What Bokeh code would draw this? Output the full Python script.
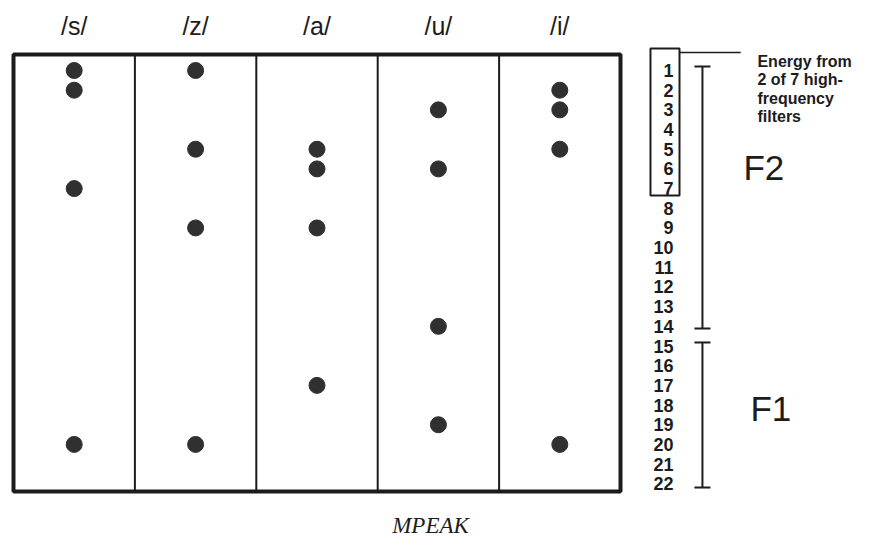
from bokeh.plotting import figure
from bokeh.models import Range1d, ColumnDataSource
from bokeh.core.properties import value
from bokeh.embed import file_html
from bokeh.resources import INLINE

# ---- data ----
categories = ["/s/", "/z/", "/a/", "/u/", "/i/"]
peaks_s = [1, 2, 7, 20]
peaks_z = [1, 5, 9, 20]
peaks_a = [5, 6, 9, 17]
peaks_u = [3, 6, 14, 19]
peaks_i = [2, 3, 5, 20]
channel_labels = ["1", "2", "3", "4", "5", "6", "7", "8", "9", "10", "11",
                  "12", "13", "14", "15", "16", "17", "18", "19", "20", "21", "22"]
channels = [1, 2, 3, 4, 5, 6, 7, 8, 9, 10, 11, 12, 13, 14, 15, 16, 17, 18, 19, 20, 21, 22]
hf_box = (1, 7)          # high-frequency filter group
f2_range = (1, 14)
f1_range = (15, 22)
energy_note = ["Energy from", "2 of 7 high-", "frequency", "filters"]
x_title = "MPEAK"

all_peaks = [peaks_s, peaks_z, peaks_a, peaks_u, peaks_i]

INK = "#1c1c1c"
DOT = "#303030"

p = figure(width=855, height=540, output_backend="svg", toolbar_location=None,
           x_range=Range1d(-0.1071, 6.9357), y_range=Range1d(24.882, -2.557),
           x_axis_type=None, y_axis_type=None, min_border=0,
           outline_line_color=None, background_fill_color="white",
           border_fill_color="white")
p.grid.visible = False

# outer box and column dividers
ncat = len(categories)
p.quad(left=[0], right=[ncat], top=[0.19], bottom=[22.39],
       fill_color=None, line_color=INK, line_width=4)
p.segment(x0=list(range(1, ncat)), x1=list(range(1, ncat)),
          y0=[0.19] * (ncat - 1), y1=[22.39] * (ncat - 1),
          line_color=INK, line_width=2)

# column labels
p.text(x=[i + 0.5 for i in range(ncat)], y=[-1.28] * ncat, text=categories,
       text_align="center", text_baseline="middle",
       text_font=value("Liberation Sans"), text_font_size="25px", text_color=INK)

# dots
xs, ys = [], []
for i, pk in enumerate(all_peaks):
    for c in pk:
        xs.append(i + 0.5)
        ys.append(c)
src = ColumnDataSource(dict(x=xs, y=ys))
p.scatter("x", "y", source=src, size=16, fill_color=DOT, line_color=DOT)

# channel numbers
p.text(x=[5.437] * len(channels), y=channels, text=channel_labels,
       text_align="right", text_baseline="middle",
       text_font=value("Liberation Sans"), text_font_style="bold",
       text_font_size="18px", text_color=INK)

# box around high-frequency channels
p.quad(left=[5.247], right=[5.486], top=[hf_box[0] - 1.12], bottom=[hf_box[1] + 0.35],
       fill_color=None, line_color=INK, line_width=2)
p.segment(x0=[5.486], x1=[5.99], y0=[hf_box[0] - 0.915], y1=[hf_box[0] - 0.915],
          line_color=INK, line_width=1.5)
p.text(x=[6.128] * len(energy_note), y=[0.543, 1.457, 2.423, 3.337], text=energy_note,
       text_align="left", text_baseline="alphabetic",
       text_font=value("Liberation Sans"), text_font_style="bold",
       text_font_size="16px", text_color=INK)

# F2 / F1 brackets
bx = 5.675
cap = 0.066
for (lo, hi), lab, ly, lx in [((f2_range[0] - 0.2, f2_range[1] + 0.11), "F2", 5.93, 6.013),
                              ((f1_range[0] - 0.18, f1_range[1] + 0.19), "F1", 18.17, 6.07)]:
    p.segment(x0=[bx, bx - cap, bx - cap], x1=[bx, bx + cap, bx + cap],
              y0=[lo, lo, hi], y1=[hi, lo, hi], line_color=INK, line_width=2)
    p.text(x=[lx], y=[ly], text=[lab], text_align="left", text_baseline="middle",
           text_font=value("Liberation Sans"), text_font_size="35px", text_color=INK)

# bottom title
p.text(x=[3.435], y=[24.12], text=[x_title], text_align="center", text_baseline="middle",
       text_font=value("Liberation Serif"), text_font_style="italic",
       text_font_size="23px", text_color=INK)

open("out.html", "w").write(file_html(p, INLINE))
